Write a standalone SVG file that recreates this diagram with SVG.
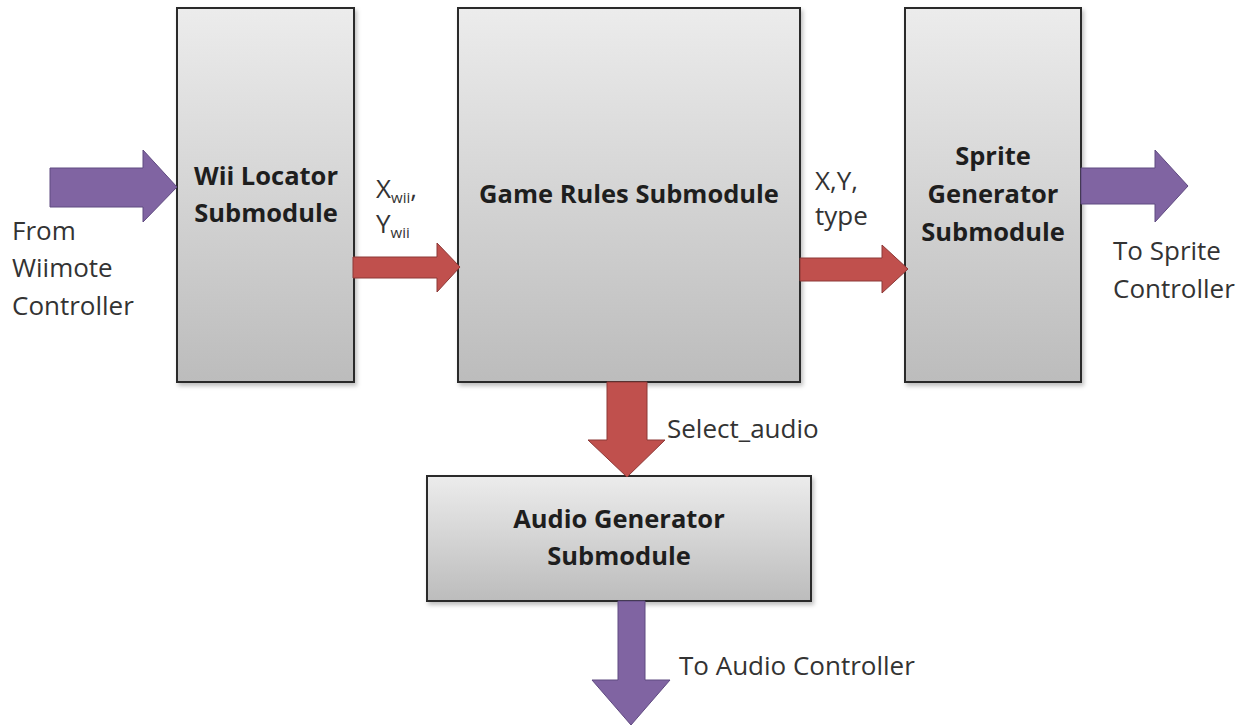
<svg xmlns="http://www.w3.org/2000/svg" width="1245" height="725" viewBox="0 0 1245 725">
<defs>
<linearGradient id="g" x1="0" y1="0" x2="0" y2="1">
<stop offset="0" stop-color="#ececec"/>
<stop offset="1" stop-color="#bcbcbc"/>
</linearGradient>
<filter id="sh" x="-10%" y="-10%" width="130%" height="130%">
<feDropShadow dx="2" dy="3" stdDeviation="2" flood-color="#000" flood-opacity="0.25"/>
</filter>
</defs>
<style>
.box{fill:url(#g);stroke:#2a2a2a;stroke-width:2;filter:url(#sh)}
.bt{font-family:"Open Sans","Liberation Sans",sans-serif;font-weight:bold;font-size:25.5px;fill:#1e1e1e;text-anchor:middle}
.lt{font-family:"Open Sans","Liberation Sans",sans-serif;font-size:26px;fill:#333}
.sub{font-size:15px}
.pa{fill:#8064a2;stroke:#5f4a80;stroke-width:1}
.ra{fill:#c0504d;stroke:#8c3836;stroke-width:1}
</style>
<rect width="1245" height="725" fill="#fff"/>
<g id="wii-locator">
<rect class="box" x="177" y="8" width="177" height="374"/>
<text class="bt" x="266" y="185">Wii Locator</text>
<text class="bt" x="266" y="222">Submodule</text>
</g>
<g id="game-rules">
<rect class="box" x="458" y="8" width="342" height="374"/>
<text class="bt" x="629" y="203">Game Rules Submodule</text>
</g>
<g id="sprite-generator">
<rect class="box" x="905" y="8" width="176" height="374"/>
<text class="bt" x="993" y="165">Sprite</text>
<text class="bt" x="993" y="203">Generator</text>
<text class="bt" x="993" y="241">Submodule</text>
</g>
<g id="audio-generator">
<rect class="box" x="427" y="476" width="384" height="125"/>
<text class="bt" x="619" y="528">Audio Generator</text>
<text class="bt" x="619" y="565">Submodule</text>
</g>
<g id="connectors">
<polygon class="pa" points="50,168 143,168 143,150 177,187 143,222 143,207 50,207"/>
<polygon class="ra" points="353,257 437,257 437,243 460,267 437,292 437,278 353,278"/>
<polygon class="ra" points="800,258 882,258 882,245 908,269 882,293 882,281 800,281"/>
<polygon class="pa" points="1081,168 1155,168 1155,150 1188,186 1155,222 1155,204 1081,204"/>
<polygon class="ra" points="607,382 647,382 647,440 665,440 627,477 588,440 607,440"/>
<polygon class="pa" points="618,601 645,601 645,680 670,680 631,725 592,680 618,680"/>
</g>
<g id="labels">
<text class="lt" x="12" y="240">From</text>
<text class="lt" x="12" y="277">Wiimote</text>
<text class="lt" x="12" y="315">Controller</text>
<text class="lt" x="376" y="198" font-size="23">X<tspan class="sub" dy="5">wii</tspan><tspan dy="-5">,</tspan></text>
<text class="lt" x="376" y="233" font-size="23">Y<tspan class="sub" dy="5">wii</tspan></text>
<text class="lt" x="815" y="190">X,Y,</text>
<text class="lt" x="815" y="225">type</text>
<text class="lt" x="1113" y="260">To Sprite</text>
<text class="lt" x="1113" y="298">Controller</text>
<text class="lt" x="667" y="438">Select_audio</text>
<text class="lt" x="679" y="675">To Audio Controller</text>
</g>
</svg>
